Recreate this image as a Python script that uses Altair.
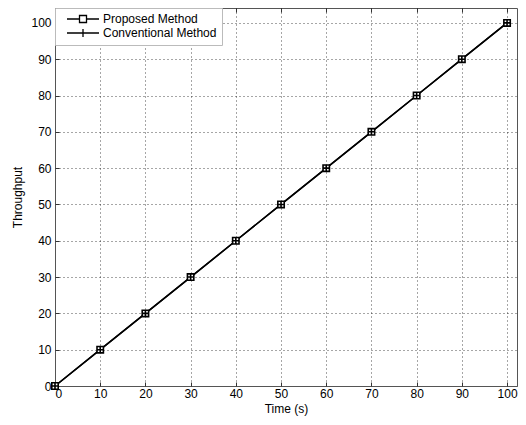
import altair as alt
import pandas as pd

# ---- data ----
time_s = [0, 10, 20, 30, 40, 50, 60, 70, 80, 90, 100]
proposed = [0, 10, 20, 30, 40, 50, 60, 70, 80, 90, 100]
conventional = [0, 10, 20, 30, 40, 50, 60, 70, 80, 90, 100]
series_names = ["Proposed Method", "Conventional Method"]
x_ticks = [0, 10, 20, 30, 40, 50, 60, 70, 80, 90, 100]
y_ticks = [0, 10, 20, 30, 40, 50, 60, 70, 80, 90, 100]

rows = []
for t, v in zip(time_s, proposed):
    rows.append({"Time": t, "Throughput": v, "Series": series_names[0]})
for t, v in zip(time_s, conventional):
    rows.append({"Time": t, "Throughput": v, "Series": series_names[1]})
df = pd.DataFrame(rows)

W, H = 462, 378
FONT = "Liberation Sans"

xs = alt.Scale(domain=[0, 102.2], nice=False, zero=False)
ys = alt.Scale(domain=[0, 104.1], nice=False, zero=False)

marker_paths = ["M-0.8,-0.8H0.8V0.8H-0.8Z", "M-0.8,0H0.8M0,-0.8V0.8"]
legend_paths = [
    "M-3.2,0H-0.7M0.7,0H3.2M-0.7,-0.7H0.7V0.7H-0.7Z",
    "M-3.2,0H3.2M0,-0.8V0.8",
]

line = alt.Chart(df).mark_line(color="black", strokeWidth=1.5).encode(
    x=alt.X("Time:Q", scale=xs,
            axis=alt.Axis(values=x_ticks, title="Time (s)", grid=True, ticks=False,
                          labelPadding=2, titlePadding=4, format="d")),
    y=alt.Y("Throughput:Q", scale=ys,
            axis=alt.Axis(values=y_ticks, title="Throughput", grid=True, ticks=False,
                          labelPadding=4, titlePadding=6, format="d")),
    detail="Series:N",
)

points = alt.Chart(df).mark_point(fill="white", stroke="black", strokeWidth=1.6,
                                  size=64, opacity=1).encode(
    x=alt.X("Time:Q", scale=xs,
            axis=alt.Axis(orient="top", offset=-H, values=x_ticks, labels=False,
                          domain=False, grid=False, ticks=True, tickSize=4, title=None)),
    y=alt.Y("Throughput:Q", scale=ys,
            axis=alt.Axis(orient="right", offset=-W, values=y_ticks, labels=False,
                          domain=False, grid=False, ticks=True, tickSize=4, title=None)),
    shape=alt.Shape("Series:N", scale=alt.Scale(domain=series_names, range=marker_paths),
                    legend=None),
)

leg = alt.Chart(df).mark_point(opacity=0).encode(
    x=alt.X("Time:Q", scale=xs,
            axis=alt.Axis(orient="bottom", offset=-H, values=x_ticks, labels=False,
                          domain=False, grid=False, ticks=True, tickSize=4, title=None)),
    y=alt.Y("Throughput:Q", scale=ys, axis=None),
    shape=alt.Shape("Series:N", scale=alt.Scale(domain=series_names, range=legend_paths),
                    legend=alt.Legend(title=None, orient="top-left", offset=0, padding=5,
                                      fillColor="white", strokeColor="#bbbbbb",
                                      symbolSize=100, symbolOpacity=1,
                                      symbolStrokeColor="black", symbolFillColor="white",
                                      symbolStrokeWidth=1.3, symbolOffset=17,
                                      labelOffset=14, labelFont=FONT, labelFontSize=12,
                                      labelColor="black", rowPadding=0, labelLimit=300)),
)

chart = alt.layer(line, points, leg).resolve_scale(
    shape="independent"
).resolve_axis(
    x="independent", y="independent"
).properties(
    width=W, height=H,
    autosize=alt.AutoSizeParams(type="none"),
    padding={"left": 47, "top": 0, "right": 1, "bottom": 30},
    background="white",
).configure_axis(
    labelFont=FONT, labelFontSize=12, labelColor="black",
    titleFont=FONT, titleFontSize=12, titleFontWeight="normal", titleColor="black",
    domainColor="#555555", domainWidth=1,
    gridColor="black", gridDash=[1, 3], gridOpacity=0.7, gridWidth=1,
    tickColor="#333333", tickWidth=1,
).configure_view(
    stroke="#555555", strokeWidth=1,
)

chart.save("out.html", embed_options={"renderer": "svg", "actions": False})
